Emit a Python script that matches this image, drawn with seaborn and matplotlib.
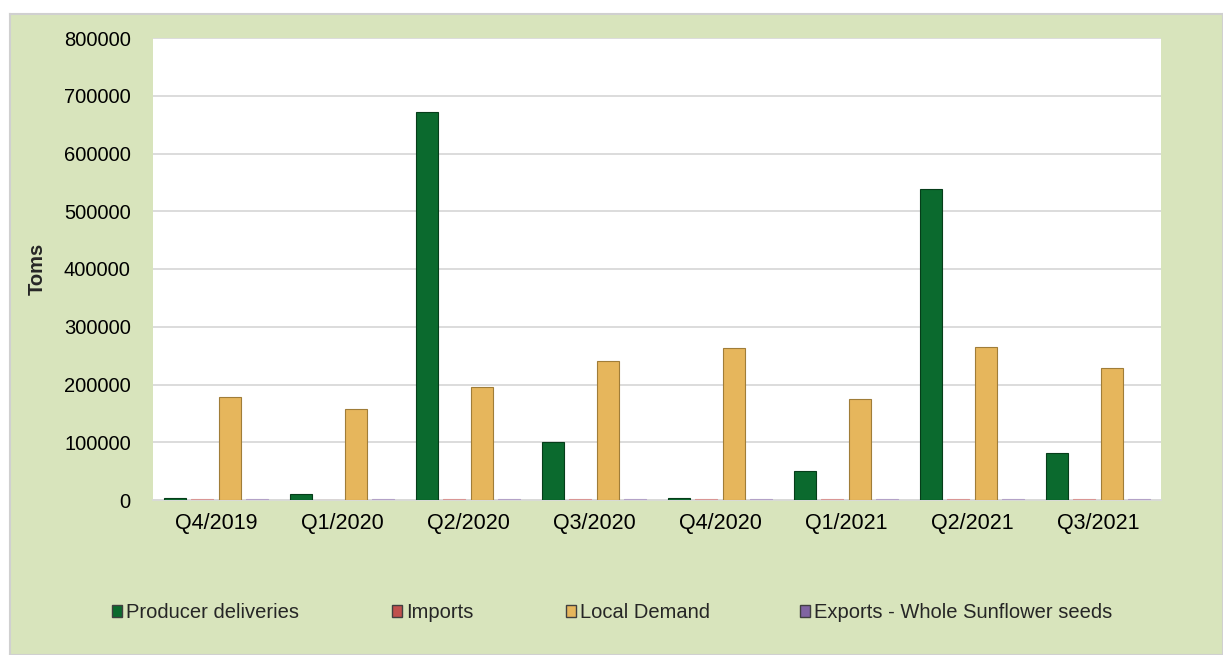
import matplotlib.pyplot as plt
import matplotlib.patches as mpatches
import pandas as pd
import seaborn as sns

# Quarterly figures
quarters = ["Q4/2019", "Q1/2020", "Q2/2020", "Q3/2020",
            "Q4/2020", "Q1/2021", "Q2/2021", "Q3/2021"]
producer_deliveries = [3000, 10000, 672000, 101000, 3000, 50000, 538000, 82000]
imports = [1500, 0, 1500, 1500, 1500, 1500, 1500, 1500]
local_demand = [178000, 158000, 195000, 241000, 263000, 175000, 265000, 228000]
exports = [1500, 1500, 1500, 1500, 1500, 1500, 1500, 1500]

series = ["Producer deliveries", "Imports", "Local Demand",
          "Exports - Whole Sunflower seeds"]
colors = ["#0b6a2e", "#c0504d", "#e6b65c", "#8064a2"]
edges = ["#063d1a", "#d99694", "#a07d38", "#b3a2c7"]

df = pd.DataFrame({
    "Quarter": quarters * 4,
    "Series": [s for s in series for _ in quarters],
    "Tons": producer_deliveries + imports + local_demand + exports,
})

sns.set_style("white")
plt.rcParams["font.family"] = ["Liberation Sans", "DejaVu Sans"]

fig = plt.figure(figsize=(12.23, 6.55), dpi=100)
fig.patch.set_facecolor("white")

# green chart area with a light grey border, behind everything
bg = fig.add_axes([10 / 1223, 0, 1 - 10 / 1223, 1 - 14 / 655], zorder=-5)
bg.set_facecolor("#d8e4bc")
bg.set_xticks([])
bg.set_yticks([])
for s in bg.spines.values():
    s.set_color("#d0d0d0")
    s.set_linewidth(1.5)

ax = fig.add_axes([153 / 1223, 1 - 500 / 655, (1161 - 153) / 1223, (500 - 38) / 655])
ax.set_facecolor("white")

sns.barplot(data=df, x="Quarter", y="Tons", hue="Series", hue_order=series,
            order=quarters, palette=colors, saturation=1, width=0.87, gap=0.2,
            ax=ax, legend=False, zorder=3)

n = len(quarters)
for i, bar in enumerate(ax.patches[:4 * n]):
    bar.set_edgecolor(edges[i // n])
    bar.set_linewidth(0.8)

ax.set_ylim(0, 800000)
ax.set_yticks(range(0, 800001, 100000))
ax.yaxis.grid(True, color="#d9d9d9", linewidth=1.3, zorder=0)
ax.set_axisbelow(True)
for s in ["top", "right", "left"]:
    ax.spines[s].set_visible(False)
ax.spines["bottom"].set_color("#d9d9d9")
ax.spines["bottom"].set_linewidth(1.3)
ax.tick_params(axis="both", length=0, colors="black")
ax.tick_params(axis="y", labelsize=14.5, pad=16)
ax.tick_params(axis="x", labelsize=15.5, pad=9)
ax.set_xlabel("")
ax.set_ylabel("Toms", fontsize=14.5, fontweight="bold", labelpad=12)

# legend entries spaced like the original
legend_x = [112, 392, 566, 800]
for c, e, s, x in zip(colors, edges, series, legend_x):
    fig.legend(handles=[mpatches.Patch(facecolor=c, edgecolor="#404040", label=s)],
               loc="center left", bbox_to_anchor=(x / 1223, 1 - 613 / 655),
               frameon=False, fontsize=14.5, handlelength=0.5, handleheight=0.55,
               handletextpad=0.2, borderpad=0, borderaxespad=0)

fig.savefig("out.png", dpi=100, facecolor=fig.get_facecolor())
